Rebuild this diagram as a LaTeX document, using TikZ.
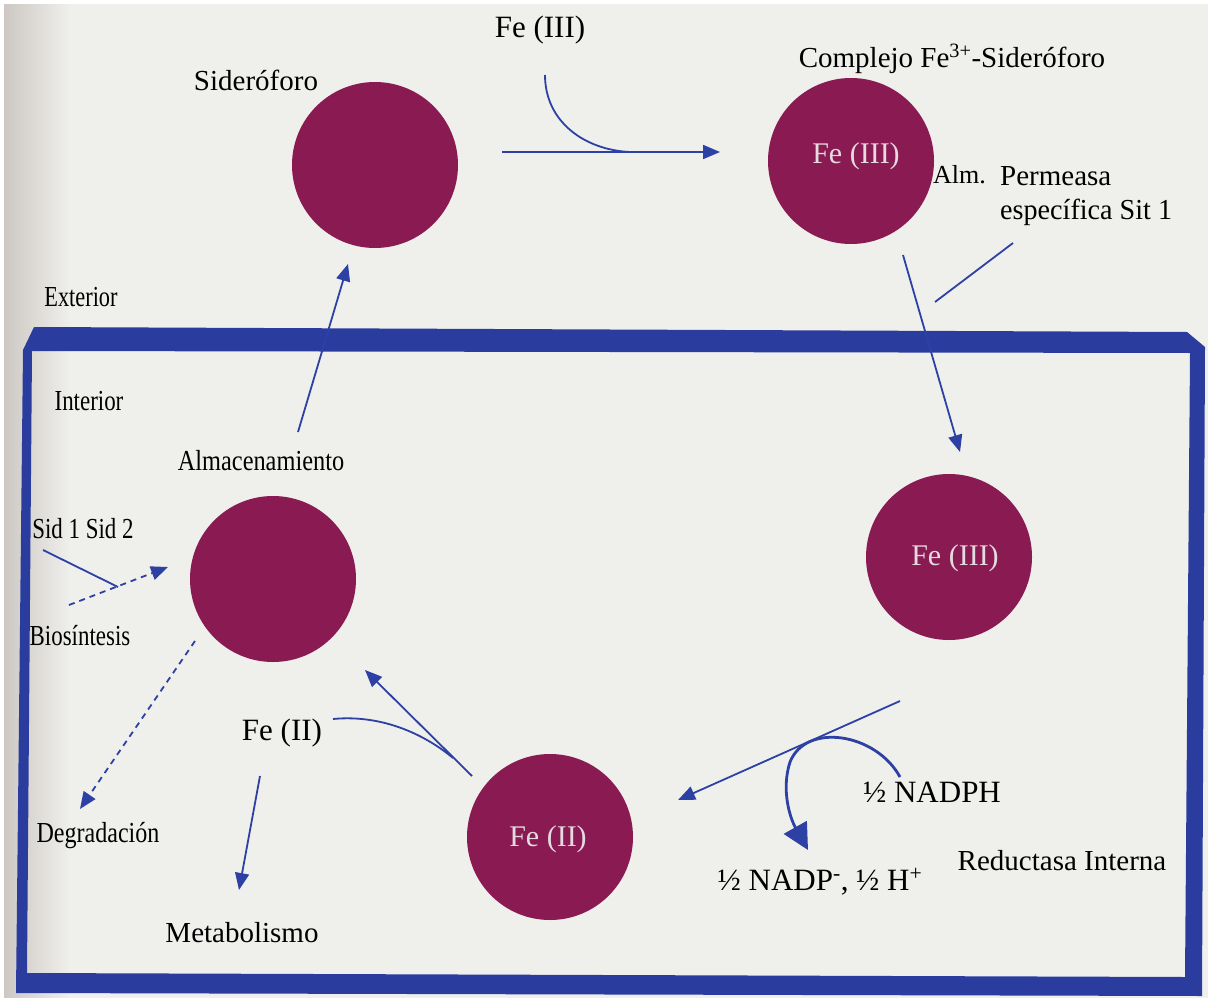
\documentclass[tikz,border=0pt]{standalone}
\usepackage{fontspec}
\setmainfont{Liberation Serif}
\usetikzlibrary{arrows.meta}
\definecolor{paper}{RGB}{239,239,236}
\definecolor{paperedge}{RGB}{205,200,195}
\definecolor{membrane}{RGB}{42,60,158}
\definecolor{arrowblue}{RGB}{45,65,165}
\definecolor{ironball}{RGB}{138,26,82}
\definecolor{balltext}{RGB}{228,218,224}
\newcommand{\condensed}[2]{\scalebox{#1}[1]{#2}}
\begin{document}
\begin{tikzpicture}[x=1pt,y=-1pt,
  lab/.style={inner sep=0pt, anchor=base, font=\fontsize{29}{34}\selectfont},
  bigl/.style={lab, font=\fontsize{31}{36}\selectfont},
  blob/.style={circle, fill=ironball, minimum size=166pt, inner sep=0pt},
  intext/.style={inner sep=0pt, anchor=base, text=balltext, font=\fontsize{30}{34}\selectfont},
  flow/.style={draw=arrowblue, line width=1.8pt, -{Triangle[length=17pt,width=14pt]}},
  plainline/.style={draw=arrowblue, line width=1.8pt},
  dashflow/.style={flow, dash pattern=on 6pt off 5pt},
]
\useasboundingbox (0,0) rectangle (1218,998);
% paper
\fill[paper] (0,0) rectangle (1218,998);
\shade[left color=paperedge, right color=paper] (4,0) rectangle (70,998);
\fill[white] (0,0) rectangle (4,998);
\fill[white] (0,0) rectangle (1218,4);
\fill[white] (1208,0) rectangle (1218,998);

% membrane box
\fill[membrane, even odd rule]
  (23,350) -- (34,327) -- (1187,332) -- (1205,347) -- (1202,996) -- (16,993) -- cycle
  (32,351) -- (1190,353) -- (1185,977) -- (27,973) -- cycle;

% iron circles
\node[blob] (sidero) at (375,165) {};
\node[blob] (complejo) at (851,161) {};
\node[blob] (fe3in) at (949,557) {};
\node[blob] (fe2) at (550,837) {};
\node[blob] (almac) at (273,579) {};

% texts in circles
\node[intext] (tcomplejo) at (856,163) {Fe (III)};
\node[intext] (tfe3in) at (955,565) {Fe (III)};
\node[intext] (tfe2) at (548,846) {Fe (II)};

% labels
\node[bigl] (feIIItop) at (540,38) {Fe (III)};
\node[lab] (lsidero) at (256,90) {Sideróforo};
\node[lab] (lcomplejo) at (952,67) {Complejo Fe\textsuperscript{3+}-Sideróforo};
\node[lab, anchor=base west, font=\fontsize{26}{30}\selectfont] (lalm) at (933,183) {Alm.};
\node[lab, anchor=base west] (lperm1) at (1000,185) {Permeasa};
\node[lab, anchor=base west] (lperm2) at (1000,219) {\condensed{0.97}{específica Sit 1}};
\node[lab] (lext) at (81,306) {\condensed{0.77}{Exterior}};
\node[lab] (lint) at (89,410) {\condensed{0.79}{Interior}};
\node[lab] (lalmac) at (261,470) {\condensed{0.84}{Almacenamiento}};
\node[lab] (lsid) at (83,538) {\condensed{0.79}{Sid 1 Sid 2}};
\node[lab] (lbio) at (80,645) {\condensed{0.79}{Biosíntesis}};
\node[lab] (ldeg) at (98,842) {\condensed{0.83}{Degradación}};
\node[lab] (lmeta) at (242,942) {Metabolismo};
\node[bigl] (lfe2) at (282,740) {Fe (II)};
\node[bigl] (lnadph) at (932,802) {½ NADPH};
\node[bigl] (lnadp) at (820,890) {½ NADP\textsuperscript{-}, ½ H\textsuperscript{+}};
\node[lab] (lred) at (1062,870) {Reductasa Interna};

% connector end points
\coordinate (a1s) at (502,152);
\coordinate (a1e) at (720,152);
\coordinate (a1j) at (630,152);
\coordinate (feIIIs) at (545,75);
\coordinate (a2s) at (903,255);
\coordinate (a2e) at (960,452);
\coordinate (perms) at (935,302);
\coordinate (perme) at (1013,243);
\coordinate (a3s) at (900,701);
\coordinate (a3e) at (678,800);
\coordinate (nadphs) at (900,777);
\coordinate (nadpe) at (808,850);
\coordinate (a4s) at (472,776);
\coordinate (a4e) at (365,670);
\coordinate (fe2s) at (333,719);
\coordinate (fe2j) at (453,758);
\coordinate (a5s) at (260,776);
\coordinate (a5e) at (239,890);
\coordinate (a6s) at (298,432);
\coordinate (a6e) at (348,264);
\coordinate (sids) at (43,550);
\coordinate (side) at (118,587);
\coordinate (bios) at (69,605);
\coordinate (bioe) at (168,567);
\coordinate (degs) at (195,641);
\coordinate (dege) at (80,809);

% connectors
\draw[flow] (a1s) -- (a1e);
\draw[plainline] (feIIIs) .. controls (545,122) and (585,150) .. (a1j);
\draw[flow] (a2s) -- (a2e);
\draw[plainline] (perms) -- (perme);
\draw[flow] (a3s) -- (a3e);
\draw[draw=arrowblue, line width=2.8pt, -{Triangle[length=26pt,width=26pt]}]
  (nadphs) .. controls (876,733) and (806,722) .. (790,762) .. controls (781,790) and (790,818) .. (nadpe);
\draw[flow] (a4s) -- (a4e);
\draw[plainline] (fe2s) .. controls (385,714) and (428,737) .. (fe2j);
\draw[flow] (a5s) -- (a5e);
\draw[flow] (a6s) -- (a6e);
\draw[plainline] (sids) -- (side);
\draw[dashflow] (bios) -- (bioe);
\draw[dashflow] (degs) -- (dege);
\end{tikzpicture}
\end{document}
